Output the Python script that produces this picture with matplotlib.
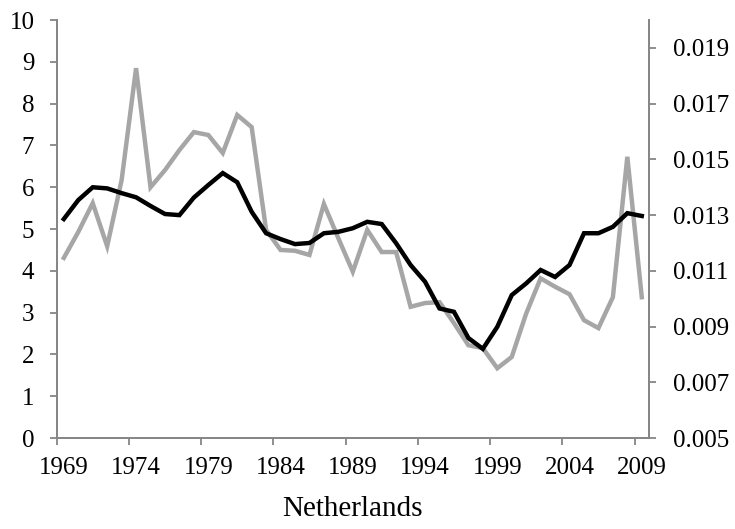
import numpy as np
import matplotlib.pyplot as plt

years = list(range(1969, 2010))

# grey series, left axis
grey_vals = [4.31, 4.93, 5.62, 4.59, 6.17, 8.85, 6.0, 6.41, 6.89, 7.32,
             7.25, 6.82, 7.73, 7.44, 4.98, 4.5, 4.48, 4.38, 5.6, 4.78,
             3.98, 4.98, 4.45, 4.45, 3.14, 3.23, 3.25, 2.75, 2.22, 2.15,
             1.67, 1.94, 2.98, 3.82, 3.62, 3.44, 2.82, 2.63, 3.37, 6.73,
             3.37]

# black series, right axis
black_vals = [0.01286, 0.01354, 0.01400, 0.01396, 0.01379, 0.01364, 0.01333,
              0.01304, 0.01300, 0.01363, 0.01408, 0.01451, 0.01418, 0.01312,
              0.01235, 0.01214, 0.01196, 0.01200, 0.01235, 0.01240, 0.01253,
              0.01276, 0.01268, 0.01199, 0.01121, 0.01061, 0.00965, 0.00953,
              0.00859, 0.00820, 0.00899, 0.01013, 0.01055, 0.01103, 0.01078,
              0.01121, 0.01235, 0.01235, 0.01258, 0.01307, 0.01297]

left_ticks = list(range(0, 11))
right_ticks = [0.005, 0.007, 0.009, 0.011, 0.013, 0.015, 0.017, 0.019]
label_years = [1969, 1974, 1979, 1984, 1989, 1994, 1999, 2004, 2009]

plt.rcParams['font.family'] = ['Liberation Serif', 'DejaVu Serif']
axis_grey = '#868686'

fig = plt.figure(figsize=(7.35, 5.29), dpi=100)
ax = fig.add_axes([0.077, 0.172, 0.806, 0.79])
ax2 = ax.twinx()

x = np.arange(len(years))
ax.plot(x, grey_vals, color='#a6a6a6', lw=3.2, solid_joinstyle='miter', zorder=2)
ax2.plot(x, black_vals, color='black', lw=3.2, solid_joinstyle='miter', zorder=3)

ax.set_xlim(-0.5, len(years) - 0.5)
ax.set_ylim(0, 10)
ax2.set_ylim(0.005, 0.020)

ax.set_yticks(left_ticks)
ax.set_yticklabels([str(t) for t in left_ticks])
ax2.set_yticks(right_ticks)
ax2.set_yticklabels(['%.3f' % t for t in right_ticks])

ax.set_xticks(np.arange(-0.5, len(years), 5))
ax.set_xticklabels([])
ax.set_xticks([years.index(y) for y in label_years], minor=True)
ax.set_xticklabels([str(y) for y in label_years], minor=True)
ax.tick_params(axis='x', which='minor', length=0, pad=14, labelsize=18)
ax.tick_params(axis='x', which='major', length=5, width=1.3, color=axis_grey)
ax.tick_params(axis='y', length=5, width=1.3, color=axis_grey, labelsize=18, pad=11)
ax2.tick_params(axis='y', length=5, width=1.3, color=axis_grey, labelsize=18, pad=12)

for a in (ax, ax2):
    a.spines['top'].set_visible(False)
    for s in ('left', 'right', 'bottom'):
        a.spines[s].set_color(axis_grey)
        a.spines[s].set_linewidth(1.3)

ax.set_xlabel('Netherlands', fontsize=21, labelpad=12)

fig.savefig('out.png', dpi=100)
